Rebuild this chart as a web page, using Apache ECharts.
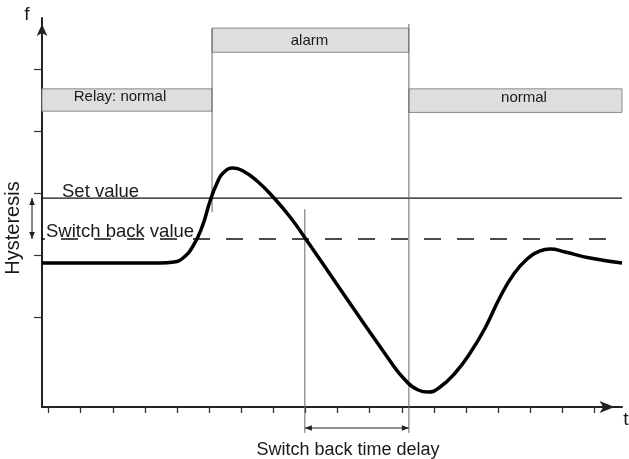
<!DOCTYPE html>
<html>
<head>
<meta charset="utf-8">
<script src="https://cdn.jsdelivr.net/npm/echarts@6/dist/echarts.min.js"></script>
<style>html,body{margin:0;padding:0;background:#fff;}#c{width:629px;height:459px;}</style>
</head>
<body>
<div id="c"></div>
<script>
// ---- data (t = time units, v = value units) ----
var curveT = [-0.206, 3.469, 3.905, 4.186, 4.498, 4.779, 5.028, 5.246, 5.433, 5.745, 6.056, 6.492, 6.991, 7.520, 7.987, 10.635, 11.103, 11.508, 11.819, 12.193, 12.660, 13.127, 13.594, 14.061, 14.466, 14.902, 15.307, 15.618, 16.085, 16.864, 17.857];
var curveV = [1.871, 1.871, 1.887, 1.952, 2.145, 2.452, 2.871, 3.161, 3.323, 3.403, 3.355, 3.194, 2.935, 2.613, 2.274, 0.290, -0.016, -0.177, -0.210, -0.129, 0.097, 0.419, 0.823, 1.323, 1.677, 1.935, 2.065, 2.097, 2.048, 1.952, 1.871];
var setValue = 2.919;
var switchBackValue = 2.258;
var lineStartT = -0.517;
var lineEndT = 17.857;
var bandNames = ['Relay: normal', 'alarm', 'normal'];
var bandStartT = [-0.206, 5.09, 11.22];
var bandEndT = [5.09, 11.22, 17.857];
var bandBottomV = [4.32, 5.27, 4.30];
var bandTopV = [4.68, 5.66, 4.68];
var alarmOnT = 5.09, alarmOnTop = 5.66, alarmOnBottom = 2.69;
var switchT = 7.98, switchTop = 2.74;
var alarmOffT = 11.22, alarmOffTop = 5.726;
var lineBottomV = -0.87;
var delayArrowV = -0.79;
var xTicks = [0,1,2,3,4,5,6,7,8,9,10,11,12,13,14,15,16,17];
var yTicks = [1,2,3,4,5];
var tMin = -0.206, tMax = 17.857, vMin = -0.4516, vMax = 5.823;

function zip(a, b) { return a.map(function (x, i) { return [x, b[i]]; }); }

var chart = echarts.init(document.getElementById('c'));
var FONT = '"Liberation Sans", Arial, sans-serif';
var thin = {color: '#666', width: 1};

function txt(x, y, s, size, align, rot) {
  return {type: 'text', x: x, y: y, z: 100, silent: true, rotation: rot || 0,
    style: {text: s, font: size + 'px ' + FONT, fill: '#1a1a1a', align: align || 'center', verticalAlign: 'middle'}};
}

// double-headed arrow between (x0,y0) and (x1,y1), drawn through the axes
function arrowItem(params, api) {
  var p1 = api.coord([api.value(0), api.value(1)]);
  var p2 = api.coord([api.value(2), api.value(3)]);
  var dx = p2[0] - p1[0], dy = p2[1] - p1[1];
  var len = Math.sqrt(dx * dx + dy * dy) || 1;
  var ux = dx / len, uy = dy / len, nx = -uy, ny = ux;
  var L = 7, W = 2.8;
  function head(p, s) {
    var bx = p[0] + s * ux * L, by = p[1] + s * uy * L;
    return {type: 'polygon', shape: {points: [[p[0], p[1]], [bx + nx * W, by + ny * W], [bx - nx * W, by - ny * W]]}, style: {fill: '#222'}};
  }
  return {type: 'group', children: [
    {type: 'line', shape: {x1: p1[0], y1: p1[1], x2: p2[0], y2: p2[1]}, style: {stroke: '#222', lineWidth: 1.1}},
    head(p1, 1), head(p2, -1)
  ]};
}

chart.setOption({
  animation: false,
  grid: {left: 42, right: 7, top: 18, bottom: 52},
  xAxis: {
    type: 'value', min: tMin, max: tMax,
    axisLine: {onZero: false, lineStyle: {color: '#222', width: 2}, symbol: ['none', 'arrow'], symbolSize: [9, 15], symbolOffset: [0, -7.5]},
    axisTick: {show: true, customValues: xTicks, length: 6, lineStyle: {color: '#333', width: 1.3}},
    axisLabel: {show: false},
    splitLine: {show: false}
  },
  yAxis: {
    type: 'value', min: vMin, max: vMax,
    axisLine: {onZero: false, show: true, lineStyle: {color: '#222', width: 2}, symbol: ['none', 'arrow'], symbolSize: [8, 12], symbolOffset: [0, -6]},
    axisTick: {show: true, customValues: yTicks, length: 8, lineStyle: {color: '#333', width: 1.2}},
    axisLabel: {show: false},
    splitLine: {show: false}
  },
  series: [
    {
      type: 'line', clip: false, silent: true, symbol: 'none',
      data: [[lineStartT, setValue], [lineEndT, setValue]],
      lineStyle: {color: '#111', width: 1.2},
      markArea: {
        silent: true,
        itemStyle: {color: '#dedede', borderColor: '#8a8a8a', borderWidth: 1},
        label: {show: false},
        data: bandNames.map(function (n, i) {
          return [{name: n, coord: [bandStartT[i], bandTopV[i]]}, {coord: [bandEndT[i], bandBottomV[i]]}];
        })
      }
    },
    {
      type: 'line', clip: false, silent: true, symbol: 'none',
      data: [[lineStartT, switchBackValue], [lineEndT, switchBackValue]],
      lineStyle: {color: '#111', width: 1.5, type: [17, 16], dashOffset: 4}
    },
    {type: 'line', clip: false, silent: true, symbol: 'none', data: [[alarmOnT, alarmOnTop], [alarmOnT, alarmOnBottom]], lineStyle: thin},
    {type: 'line', clip: false, silent: true, symbol: 'none', data: [[switchT, switchTop], [switchT, lineBottomV]], lineStyle: thin},
    {type: 'line', clip: false, silent: true, symbol: 'none', data: [[alarmOffT, alarmOffTop], [alarmOffT, lineBottomV]], lineStyle: thin},
    {
      type: 'custom', clip: false, silent: true, renderItem: arrowItem,
      data: [
        [switchT, delayArrowV, alarmOffT, delayArrowV],
        [lineStartT, setValue, lineStartT, switchBackValue]
      ]
    },
    {
      type: 'line', clip: false, silent: true, symbol: 'none', smooth: 0.5,
      data: zip(curveT, curveV),
      lineStyle: {color: '#000', width: 3.5}
    }
  ],
  graphic: [
    txt(27, 15, 'f', 19),
    txt(626, 420, 't', 19),
    txt(120, 97, 'Relay: normal', 15),
    txt(309.5, 41, 'alarm', 15),
    txt(524, 98, 'normal', 15),
    txt(62, 192, 'Set value', 18.5, 'left'),
    txt(46, 232, 'Switch back value', 18.5, 'left'),
    txt(13, 228, 'Hysteresis', 20, 'center', Math.PI / 2),
    txt(348, 450, 'Switch back time delay', 18)
  ]
});
</script>
</body>
</html>
